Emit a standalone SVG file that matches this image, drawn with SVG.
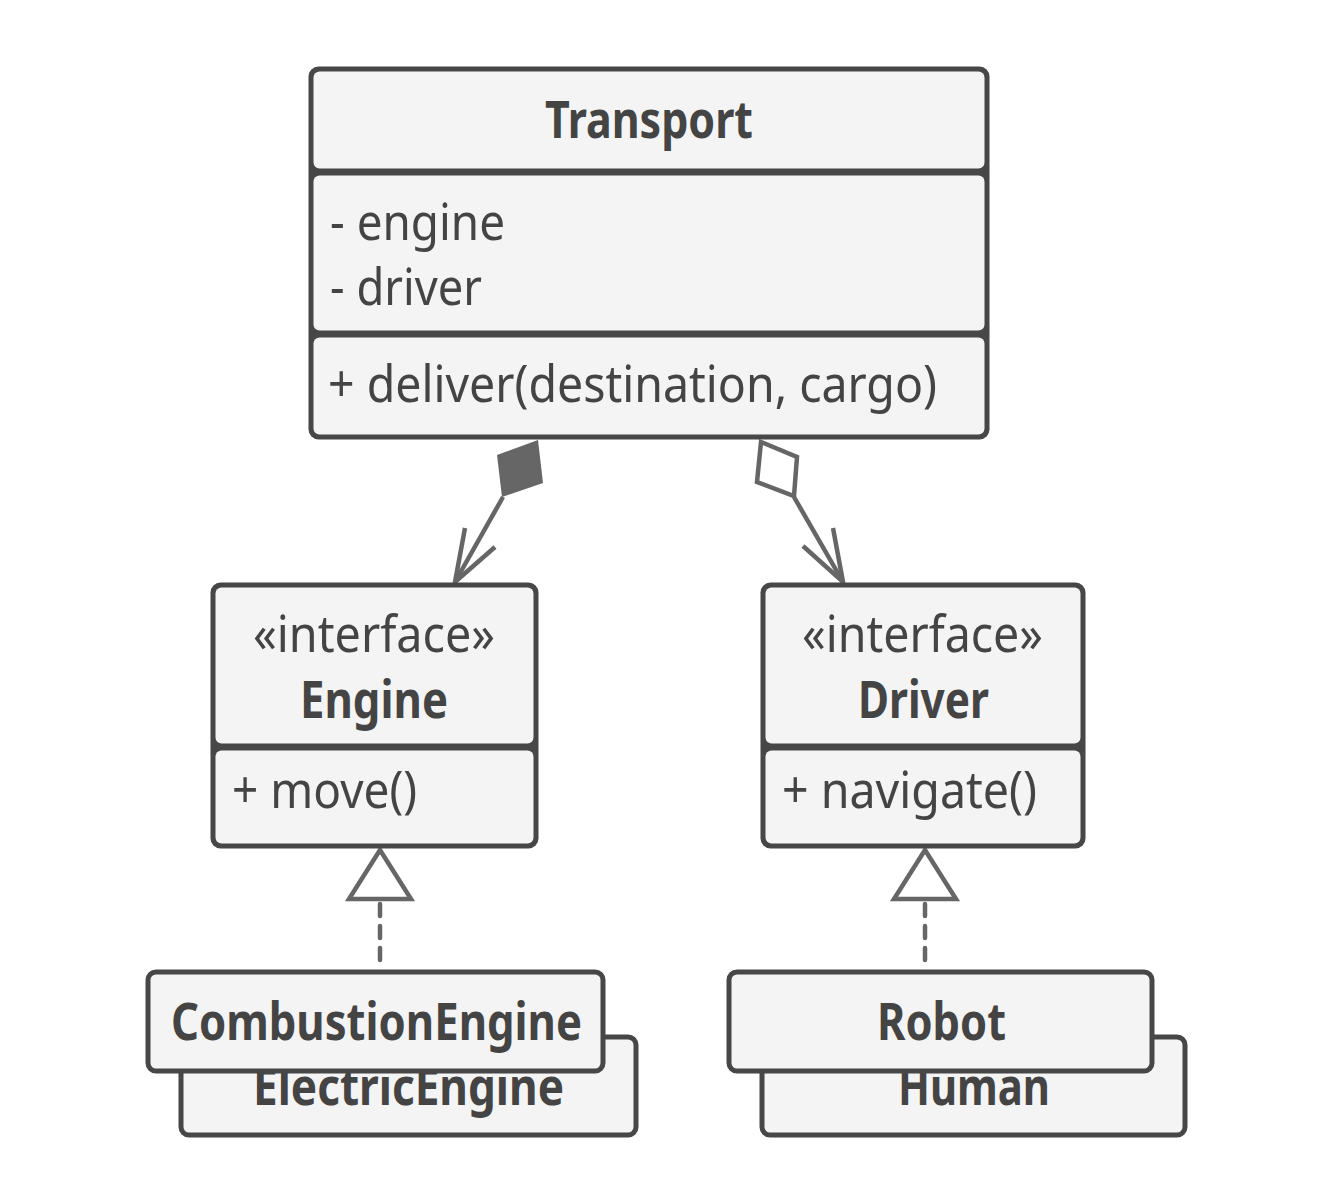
<svg xmlns="http://www.w3.org/2000/svg" width="1336" height="1194" viewBox="0 0 1336 1194">
<style>
.frame{fill:#474747}
.comp{fill:#f4f4f4}
.box{fill:#f4f4f4;stroke:#474747;stroke-width:5}
.t{font-family:"Noto Sans","Open Sans",sans-serif;fill:#444;font-size:51px}
.b{font-weight:bold;font-size:52px}
.ln{fill:none;stroke:#666;stroke-width:4.5}
.dash{fill:none;stroke:#666;stroke-width:4.5;stroke-dasharray:12 10;stroke-linecap:round}
.hollow{fill:#fff;stroke:#666;stroke-width:4.5;stroke-linejoin:miter}
</style>
<rect width="1336" height="1194" fill="#fff"/>

<g id="connectors">
  <polygon points="538,440 497,455 502,497 543,483" fill="#666"/>
  <line class="ln" x1="503" y1="497" x2="455" y2="582"/>
  <polyline class="ln" points="465,528 455,582 495,547"/>
  <polygon class="hollow" points="761,442 797,457 794,496 757,482"/>
  <line class="ln" x1="794" y1="497" x2="843" y2="582"/>
  <polyline class="ln" points="833,528 843,582 803,546"/>
  <line class="dash" x1="380" y1="904" x2="380" y2="964"/>
  <polygon class="hollow" points="380,850 349,899 411,899"/>
  <line class="dash" x1="925" y1="904" x2="925" y2="964"/>
  <polygon class="hollow" points="925,850 894,899 956,899"/>
</g>

<g id="transport">
  <rect class="frame" x="308.5" y="66.5" width="681" height="373" rx="10"/>
  <rect class="comp" x="313.5" y="71.5" width="671" height="97" rx="6"/>
  <rect class="comp" x="313.5" y="175.5" width="671" height="155" rx="6"/>
  <rect class="comp" x="313.5" y="337.5" width="671" height="97" rx="6"/>
  <text class="t b" x="545" y="138" textLength="208" lengthAdjust="spacingAndGlyphs">Transport</text>
  <text class="t" x="330" y="240" textLength="175" lengthAdjust="spacingAndGlyphs">- engine</text>
  <text class="t" x="330" y="305" textLength="152" lengthAdjust="spacingAndGlyphs">- driver</text>
  <text class="t" x="328" y="402" textLength="609" lengthAdjust="spacingAndGlyphs">+ deliver(destination, cargo)</text>
</g>

<g id="engine">
  <rect class="frame" x="210.5" y="582.5" width="328" height="266" rx="10"/>
  <rect class="comp" x="215.5" y="587.5" width="318" height="156" rx="6"/>
  <rect class="comp" x="215.5" y="750.5" width="318" height="93" rx="6"/>
  <text class="t" x="253" y="652" textLength="242" lengthAdjust="spacingAndGlyphs">«interface»</text>
  <text class="t b" x="300" y="718" textLength="148" lengthAdjust="spacingAndGlyphs">Engine</text>
  <text class="t" x="232" y="808" textLength="185" lengthAdjust="spacingAndGlyphs">+ move()</text>
</g>

<g id="driver">
  <rect class="frame" x="760.5" y="582.5" width="325" height="266" rx="10"/>
  <rect class="comp" x="765.5" y="587.5" width="315" height="156" rx="6"/>
  <rect class="comp" x="765.5" y="750.5" width="315" height="93" rx="6"/>
  <text class="t" x="802" y="652" textLength="241" lengthAdjust="spacingAndGlyphs">«interface»</text>
  <text class="t b" x="858" y="718" textLength="131" lengthAdjust="spacingAndGlyphs">Driver</text>
  <text class="t" x="782" y="808" textLength="255" lengthAdjust="spacingAndGlyphs">+ navigate()</text>
</g>

<g id="electric-engine">
  <rect class="box" x="181" y="1037" width="455" height="98" rx="8"/>
  <text class="t b" x="253" y="1105" textLength="311" lengthAdjust="spacingAndGlyphs">ElectricEngine</text>
</g>
<g id="combustion-engine">
  <rect class="box" x="148" y="972" width="455" height="99" rx="8"/>
  <text class="t b" x="171" y="1040" textLength="411" lengthAdjust="spacingAndGlyphs">CombustionEngine</text>
</g>

<g id="human">
  <rect class="box" x="762" y="1037" width="423" height="98" rx="8"/>
  <text class="t b" x="898" y="1105" textLength="152" lengthAdjust="spacingAndGlyphs">Human</text>
</g>
<g id="robot">
  <rect class="box" x="729" y="972" width="423" height="99" rx="8"/>
  <text class="t b" x="877" y="1040" textLength="129" lengthAdjust="spacingAndGlyphs">Robot</text>
</g>
</svg>
